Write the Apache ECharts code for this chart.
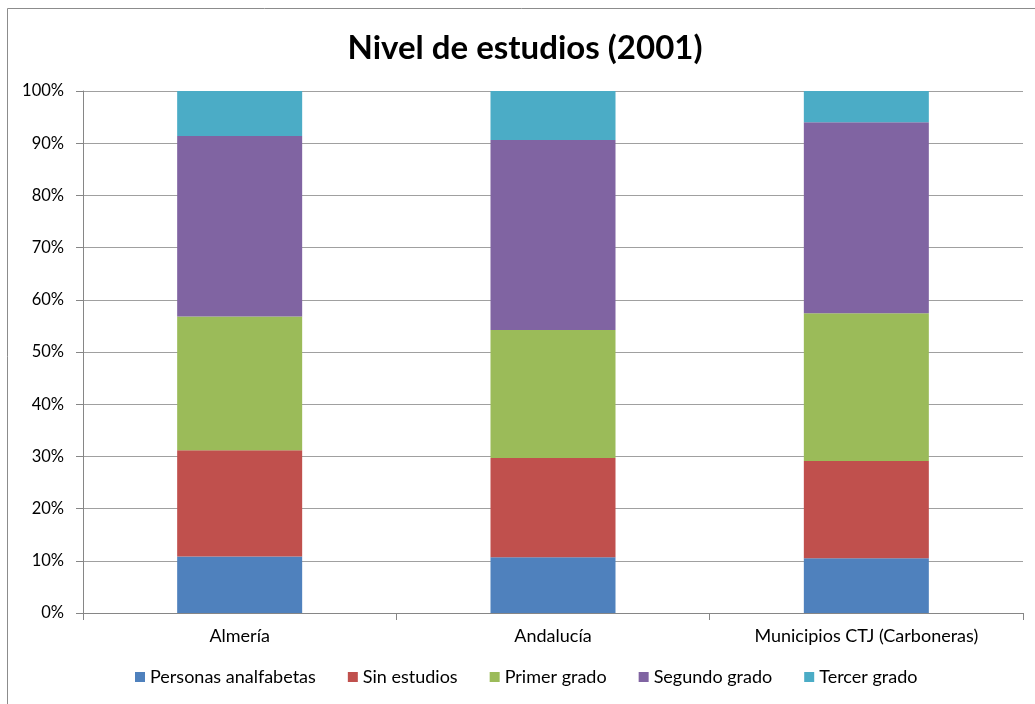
<!DOCTYPE html>
<html>
<head>
<meta charset="utf-8">
<script src="https://cdn.jsdelivr.net/npm/echarts@6/dist/echarts.min.js"></script>
<style>
  html, body { margin: 0; padding: 0; background: #fff; }
  #main { width: 1035px; height: 704px; }
</style>
</head>
<body>
<div id="main"></div>
<script>
// datos (porcentajes)
var categorias = ['Almería', 'Andalucía', 'Municipios CTJ (Carboneras)'];
var analfabetas = [10.8, 10.7, 10.5];
var sinEstudios = [20.4, 19.0, 18.6];
var primerGrado = [25.6, 24.5, 28.3];
var segundoGrado = [34.6, 36.4, 36.6];
var tercerGrado = [8.6, 9.4, 6.0];
var yTicks = [0, 100, 10]; // min, max, intervalo

var fuente = 'Lato';
var myChart = echarts.init(document.getElementById('main'));

function serie(nombre, datos, color) {
    return {
        name: nombre,
        type: 'bar',
        stack: 'total',
        barWidth: 125,
        data: datos,
        itemStyle: { color: color },
        emphasis: { disabled: true }
    };
}

var option = {
    animation: false,
    backgroundColor: '#fff',
    textStyle: { fontFamily: fuente },
    title: {
        text: 'Nivel de estudios (2001)',
        left: 520,
        top: 27,
        textAlign: 'center',
        textStyle: { fontFamily: fuente, fontSize: 33, fontWeight: 'bold', color: '#000' }
    },
    grid: { left: 83, right: 12, top: 91, bottom: 91 },
    legend: {
        bottom: 18,
        left: 135,
        padding: 0,
        itemWidth: 10,
        itemHeight: 10,
        itemGap: 32,
        icon: 'rect',
        textStyle: { fontFamily: fuente, fontSize: 18, color: '#000' },
        data: ['Personas analfabetas', 'Sin estudios', 'Primer grado', 'Segundo grado', 'Tercer grado']
    },
    xAxis: {
        type: 'category',
        data: categorias,
        axisLine: { lineStyle: { color: '#868686' } },
        axisTick: { show: true, length: 7, lineStyle: { color: '#868686' } },
        axisLabel: { margin: 14, fontSize: 18, color: '#000', fontFamily: fuente }
    },
    yAxis: {
        type: 'value',
        min: yTicks[0],
        max: yTicks[1],
        interval: yTicks[2],
        axisLine: { show: true, lineStyle: { color: '#868686' } },
        axisTick: { show: true, length: 7, lineStyle: { color: '#868686' } },
        axisLabel: { margin: 19, fontSize: 16.5, color: '#000', fontFamily: fuente, formatter: '{value}%' },
        splitLine: { lineStyle: { color: '#a0a0a0', width: 1 } }
    },
    graphic: [{
        type: 'rect',
        shape: { x: 7.5, y: 8.5, width: 1200, height: 1000 },
        style: { fill: 'none', stroke: '#8c8c8c', lineWidth: 1 },
        silent: true
    }],
    series: [
        serie('Personas analfabetas', analfabetas, '#4F81BD'),
        serie('Sin estudios', sinEstudios, '#C0504D'),
        serie('Primer grado', primerGrado, '#9BBB59'),
        serie('Segundo grado', segundoGrado, '#8064A2'),
        serie('Tercer grado', tercerGrado, '#4BACC6')
    ]
};
myChart.setOption(option);
</script>
</body>
</html>
